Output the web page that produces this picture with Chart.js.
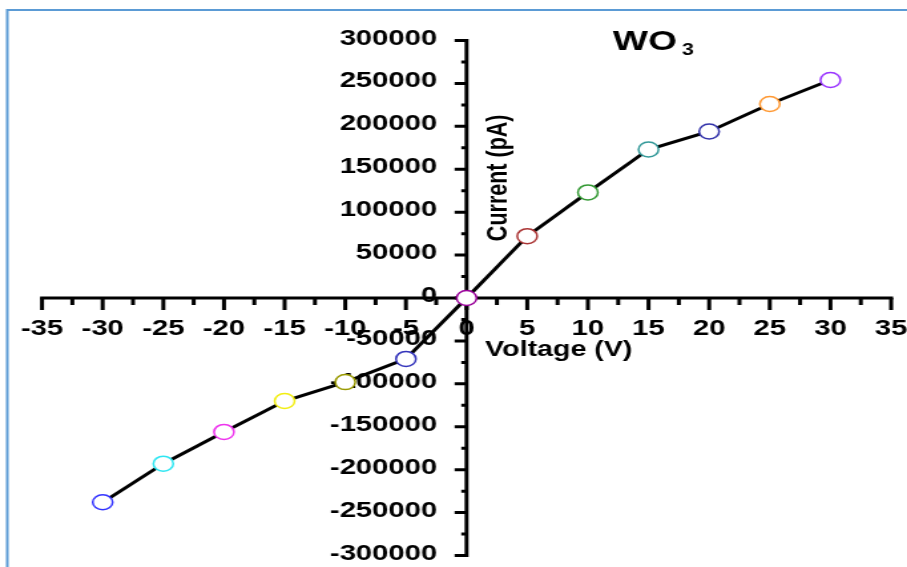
<!DOCTYPE html>
<html>
<head>
<meta charset="utf-8">
<script src="https://cdn.jsdelivr.net/npm/chart.js@4.4.1/dist/chart.umd.min.js"></script>
<style>
    html, body { margin: 0; padding: 0; background: #fff; overflow: hidden; }
    /* the reference is stretched sideways, so the whole chart is drawn narrow and widened */
    #stage { position: absolute; left: 0; top: 0; width: 682px; height: 567px; transform: scaleX(1.33); transform-origin: 0 0; }
</style>
</head>
<body>
<div id="stage"><canvas id="ivChart"></canvas></div>
<script>
var voltages = [-30, -25, -20, -15, -10, -5, 0, 5, 10, 15, 20, 25, 30];
var currents = [-238000, -193000, -156000, -120000, -98000, -71000, 0, 72000, 123000, 173000, 194000, 226000, 254000];
var markerColors = ['#3333ff', '#2ee6f2', '#ee33ee', '#f2ee10', '#999900', '#3333bb', '#990099',
                    '#aa3333', '#339933', '#339999', '#3333aa', '#ff9933', '#9933ff'];
var xTickValues = [-35, -30, -25, -20, -15, -10, -5, 0, 5, 10, 15, 20, 25, 30, 35];
var yTickValues = [-300000, -250000, -200000, -150000, -100000, -50000, 0,
                   50000, 100000, 150000, 200000, 250000, 300000];

var FONT = "'Liberation Sans', Arial, sans-serif";
Chart.defaults.font.family = FONT;
Chart.defaults.color = '#000';

function midpoints(list) {
    var out = [];
    for (var i = 0; i < list.length - 1; i++) {
        out.push((list[i] + list[i + 1]) / 2);
    }
    return out;
}

// axes cross at the origin: lines, major/minor tick marks and tick labels
var crossAxes = {
    id: 'crossAxes',
    beforeDatasetsDraw: function (chart) {
        var ctx = chart.ctx;
        var xs = chart.scales.x;
        var ys = chart.scales.y;
        var x0 = xs.getPixelForValue(0);
        var y0 = ys.getPixelForValue(0);
        ctx.save();
        ctx.strokeStyle = '#000';
        ctx.lineWidth = 3;
        ctx.lineCap = 'square';
        ctx.beginPath();
        ctx.moveTo(xs.getPixelForValue(xTickValues[0]), y0);
        ctx.lineTo(xs.getPixelForValue(xTickValues[xTickValues.length - 1]), y0);
        ctx.moveTo(x0, ys.getPixelForValue(yTickValues[0]));
        ctx.lineTo(x0, ys.getPixelForValue(yTickValues[yTickValues.length - 1]));
        ctx.stroke();

        ctx.lineCap = 'butt';
        ctx.beginPath();
        xTickValues.forEach(function (v) {
            var px = xs.getPixelForValue(v);
            ctx.moveTo(px, y0);
            ctx.lineTo(px, y0 + 12);
        });
        midpoints(xTickValues).forEach(function (v) {
            var px = xs.getPixelForValue(v);
            ctx.moveTo(px, y0);
            ctx.lineTo(px, y0 + 7);
        });
        yTickValues.forEach(function (v) {
            var py = ys.getPixelForValue(v);
            ctx.moveTo(x0, py);
            ctx.lineTo(x0 - 9, py);
        });
        midpoints(yTickValues).forEach(function (v) {
            var py = ys.getPixelForValue(v);
            ctx.moveTo(x0, py);
            ctx.lineTo(x0 - 4, py);
        });
        ctx.stroke();

        ctx.fillStyle = '#000';
        ctx.font = 'bold 22px ' + FONT;
        ctx.textBaseline = 'middle';
        ctx.textAlign = 'center';
        xTickValues.forEach(function (v) {
            ctx.fillText(String(v), xs.getPixelForValue(v), y0 + 30.5);
        });
        ctx.textAlign = 'right';
        yTickValues.forEach(function (v) {
            ctx.fillText(String(v), x0 - 22, ys.getPixelForValue(v) - 2);
        });
        ctx.restore();
    },
    afterDraw: function (chart) {
        var ctx = chart.ctx;
        var xs = chart.scales.x;
        var ys = chart.scales.y;
        var x0 = xs.getPixelForValue(0);
        var y0 = ys.getPixelForValue(0);
        ctx.save();

        // frame of the original figure (top and left edges only)
        ctx.strokeStyle = '#5b9bd5';
        ctx.lineWidth = 2;
        ctx.beginPath();
        ctx.moveTo(5.5, chart.height);
        ctx.lineTo(5.5, 10);
        ctx.lineTo(chart.width, 10);
        ctx.stroke();

        ctx.fillStyle = '#000';
        ctx.textBaseline = 'alphabetic';
        ctx.textAlign = 'left';
        ctx.font = 'bold 28px ' + FONT;
        ctx.fillText('WO', x0 + 110, 50);
        ctx.font = 'bold 16px ' + FONT;
        ctx.fillText('3', x0 + 162, 55);

        ctx.font = 'bold 21.5px ' + FONT;
        ctx.textBaseline = 'middle';
        ctx.fillText('Voltage (V)', x0 + 14, y0 + 52);

        ctx.save();
        ctx.translate(x0 + 24, ys.getPixelForValue(140000));
        ctx.rotate(-Math.PI / 2);
        ctx.textAlign = 'center';
        ctx.font = 'bold 21.5px ' + FONT;
        ctx.fillText('Current (pA)', 0, 0);
        ctx.restore();

        ctx.restore();
    }
};

var points = voltages.map(function (v, i) {
    return { x: v, y: currents[i] };
});

new Chart(document.getElementById('ivChart'), {
    type: 'line',
    data: {
        datasets: [{
            label: 'WO3',
            data: points,
            borderColor: '#000',
            borderWidth: 3,
            tension: 0,
            pointRadius: 7.5,
            pointHoverRadius: 7.5,
            pointBorderWidth: 1.5,
            pointBorderColor: markerColors,
            pointBackgroundColor: '#fff',
            clip: false
        }]
    },
    options: {
        responsive: true,
        maintainAspectRatio: false,
        animation: false,
        events: [],
        layout: { padding: { left: 31.6, right: 12, top: 40.5, bottom: 11.5 } },
        plugins: {
            legend: { display: false },
            title: { display: false },
            tooltip: { enabled: false }
        },
        scales: {
            x: {
                type: 'linear',
                min: xTickValues[0],
                max: xTickValues[xTickValues.length - 1],
                position: { y: 0 },
                grid: { display: false, drawTicks: false },
                border: { display: false },
                ticks: { display: false }
            },
            y: {
                type: 'linear',
                min: yTickValues[0],
                max: yTickValues[yTickValues.length - 1],
                position: { x: 0 },
                grid: { display: false, drawTicks: false },
                border: { display: false },
                ticks: { display: false }
            }
        }
    },
    plugins: [crossAxes]
});
</script>
</body>
</html>
